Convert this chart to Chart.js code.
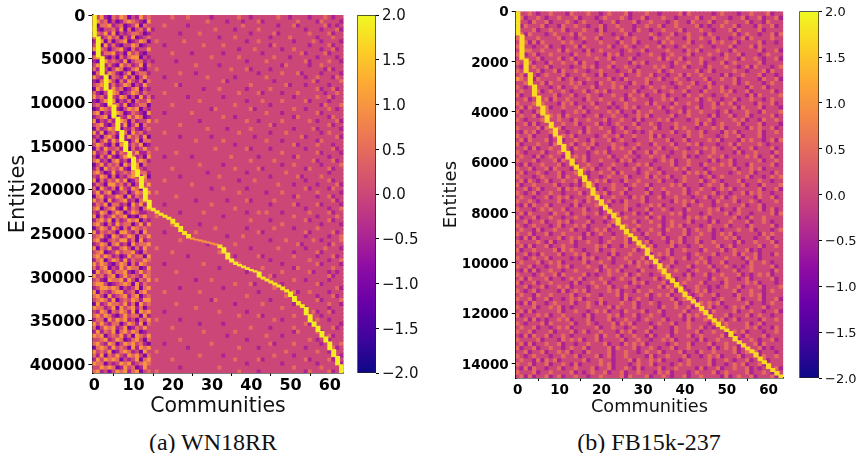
<!DOCTYPE html>
<html>
<head>
<meta charset="utf-8">
<title>Community heatmaps</title>
<script src="https://cdn.jsdelivr.net/npm/chart.js@4"></script>
<style>
  html, body { margin: 0; background: #fff; }
  body { width: 857px; height: 453px; position: relative; overflow: hidden; }
  canvas { position: absolute; top: 0; }
  .caption { position: absolute; top: 429px; width: 240px; text-align: center; font: 24px "Liberation Serif", serif; color: #111; }
</style>
</head>
<body>
<canvas id="wnHeat" width="350" height="419" style="left:0"></canvas>
<canvas id="wnBar" width="86" height="419" style="left:350px"></canvas>
<canvas id="fbHeat" width="350" height="418" style="left:440px"></canvas>
<canvas id="fbBar" width="67" height="418" style="left:790px"></canvas>
<div class="caption" style="left:93px">(a) WN18RR</div>
<div class="caption" style="left:529px">(b) FB15k-237</div>
<script>
const communities = Array.from({ length: 64 }, (_, i) => i);
const communityTicks = [0, 10, 20, 30, 40, 50, 60];
const colorTicks = [-2, -1.5, -1, -0.5, 0, 0.5, 1, 1.5, 2];

// digit in a row string -> cell value
const cellLevels = [-1.6, -1.0, -0.5, 0, 0.5, 1.0, 1.5];

const wnTotal = 41000;
const wnTicks = [0, 5000, 10000, 15000, 20000, 25000, 30000, 35000, 40000];
// first entity of the bright block in each community
const wnDiagStart = [0, 2480, 4770, 6870, 8580, 10300, 11700, 13240, 14500, 15640, 16280, 17730, 18500, 19830, 21250, 22120, 22430, 22700, 22920, 23150, 23380, 23840, 24220, 24790, 25140, 25550, 25670, 25780, 25890, 26010, 26120, 26240, 26350, 26660, 27270, 27950, 28300, 28570, 28750, 28950, 29140, 29300, 29440, 30010, 30240, 30470, 30700, 30930, 31160, 31460, 31730, 32230, 32800, 33180, 33490, 34320, 35160, 35660, 36240, 36880, 37450, 38330, 39100, 40050, 41000];
const wnDiagValue = [1.9, 1.9, 1.9, 1.9, 1.9, 1.9, 1.9, 1.9, 1.9, 1.9, 1.9, 1.9, 1.9, 1.9, 1.9, 1.8, 1.8, 1.8, 1.8, 1.8, 1.8, 1.8, 1.8, 1.8, 1.8, 1.0, 1.0, 1.0, 1.0, 1.0, 1.0, 1.0, 1.8, 1.9, 1.9, 1.9, 1.8, 1.8, 1.8, 1.8, 1.8, 1.8, 1.9, 1.8, 1.8, 1.8, 1.8, 1.8, 1.8, 1.8, 1.9, 1.9, 1.8, 1.8, 1.9, 1.9, 1.9, 1.9, 1.9, 1.9, 1.9, 1.9, 1.9, 1.9];
const wnRows = [
  "435214354132534333334333433333233333343323333334332333323334323342",
  "253413124543215333333333333334333323332333423333333343333243333231",
  "314452341235143333433333233333333333334333333332333423333334232334",
  "521334251413425233333333333333343333233333433333333333233323334243",
  "143525132344312333333323333433333333333323333342333333343333423332",
  "412353414251234333333333333333332333433333333233334333333233343323",
  "235141345123541343333334333333333333333233433333333233334323333242",
  "341524213354123333233333333343333433333333333243333333323333423333",
  "524313452142335333333333333333333333323334333333233433333323342324",
  "132445231534213333334333323333333233333333323333333334233334233313",
  "453213142455132333333333333333433333343333333343332333333233332342",
  "214534325134423233333233333333333333333233334333333333423333433233",
  "351242153423514333333333334333332333333333333333243333323343333324",
  "425313541245213343333333333333333334333423333233333333333332423343",
  "143254213513442333333343332333333333333333233333433342333323333231",
  "532414325241353333233333333334333333233333334333333333233433324333",
  "214353142532414333333333333333333423333333333323333333334233333424",
  "345124235413253333333423333333333333333343333333342333233333233343",
  "153425341245132333333333333323334333333233333433333333333423342332",
  "421335412354243333433333333333333333343333423333233343333332334323",
  "534213254131524233333333233333333233333333333333333233333433423334",
  "213545132414335333333333333433333333333233343333433333423333233342",
  "342153425123441333334333333333333333433333333233333333333324333423",
  "125434213545132333333333333333243333333342333333333433233333432333",
  "451323541243215333233333343333333333333333334333233333333423333324",
  "234514132535412333333333333333333433233333333333333243333333243343",
  "513242354142335343333333333233333333333433233333433333343233334233",
  "345213425135143333333343333333333333333333333423333333333333423342",
  "142354513242134333333333333334333323333343333333333233334233333231",
  "525134234153423333433333333333333333343333333233343333333323433333",
  "231453142534251333333323333333233333333332333333333334233333334243",
  "413525342135144333333333334333333433333333334333233333333243333323",
  "354214153243512333333333333333333333233333333333333423333433323342",
  "142533425142353343333333333333343333333423333233333333233333342333",
  "523415243135224333333433333333333333333333333333433333333423333234",
  "314252135442315333233333323333333334333333233333333243333333233343",
  "452314523143542333333333333333333333333343333343333333334233342332",
  "135243415325143333333333333433333233333333333333233433333323333423",
  "241534352145323333334333333333333333433333423333333333243333423334",
  "453125234351442333333333333332333333333233333333343333333333233342",
  "325414132453251333333323333333334333333333333233333342333343333323",
  "514243535124343333433333333333333333323334333333333333233333423333",
  "243155342413235333333333343333333333333333333334333233333233334243",
  "415324153254143333333333333333233433333233333333333333423333243332",
  "352451234135425343333333333333333333343333332333433333333433333234",
  "145233541524313333333433333333333333333333333333333243333233423342",
  "534152345231454333333333332333333323333423333343333333333333342333",
  "243514423153524333233333333333433333333333333233333423333423333233",
  "451345215243145333333333333333333333433333333333333333233333233424",
  "325413541354223333333323333343333333333233434333233333343333423332",
  "514235345121453343333333333333333233333333333333333433333233334323",
  "245351423545132333333333333333333333333343333233333333423333423343",
  "453142534413525333334333333233333333333333333333433333333323333242",
  "135425314254343333333333333333343333333233333343333233333433333324",
  "524343155324153333233333334333333333333333423333333333423333342333",
  "345215423541435333333333333333333323334333333333333333233333233434",
  "452134355241523333333343333333333333333333333233343333334323333423",
  "235414523153445333333333333332333333433333333333333342333333243333",
  "514352245314253343333333333333333333333323333334333333233334333242",
  "345123534452143333334333333333334333333333333333333233333423333334",
  "453542312534415333333333233333333333233333423333333433333233342332",
  "245135425243354333333333333333333333333333333233333333343333233424",
  "535421354142543333233333333343333333343333333333233333333423333233",
  "424513253544125333333333333333332333333333343333333243333333343342",
  "153452445213534333333433333333333333333233333333433333342333232333",
  "534245135343254333333333333333333333333333333423333333333333423343",
  "342154452531435343333333332333433333333333333333333433233333233324",
  "455312345415243333333333333333333333433342333333233333333423333342",
  "235545413235145333333323333333333233333333333343333333333333334233",
  "514324552341453333433333333433333333333333233333333423343333233343",
  "453152345245134333333333333333333333333433333333343333333233342332",
  "345425134354255333333333333333243333333333333233333333333423333424",
  "152354435241534333333433333333333333233333343333333243333333433233",
  "544235153452413333333333334333333333333333333333433333233333233343",
  "325414354251545333233333333333334333333233333333333333334233423333",
  "453542135344152333333333333333333333343333423333333433333323333324",
  "244153545231435343333323333333333333333333333343233333333433233342",
  "535324413542514333333333333233333233333333333333333333423333333233",
  "413545235124353333334333333333333333333343333233333433333233342334",
  "252435145354123333333333333343333333433333333333333243333423333323",
  "545134352415435333333333333333333323333333334333233333333333423343",
  "334523541245314333333343333333333333333233333333333333343233233332",
  "453254135453421333233333333333433333333333333423333433333323333424",
  "145425343152545333333333233333333333343333233333333333233333342333",
  "534351245423153343333333333333333333333333333333343333333433233342",
  "425143532545314333333333333433333233333333333343333233333333333234",
  "253545413235145333334333333333333333433333423333333333423333423333",
  "544132354523454333333333333333333333333233333333233333333233334243",
  "335454125341253333333323333333334333333333333333333433333343333323",
  "452313545245134343333333333333333333343333233333333333243333423342"
];

const fbTotal = 14570;
const fbTicks = [0, 2000, 4000, 6000, 8000, 10000, 12000, 14000];
const fbDiagStart = [0, 941, 1894, 2437, 2926, 3362, 3760, 4117, 4407, 4633, 4950, 5296, 5574, 5864, 6102, 6272, 6539, 6777, 7015, 7305, 7492, 7702, 7889, 8020, 8206, 8495, 8655, 8841, 8960, 9119, 9290, 9400, 9690, 9848, 10030, 10230, 10430, 10628, 10775, 10957, 11155, 11330, 11461, 11592, 11728, 11886, 12057, 12216, 12347, 12521, 12625, 12720, 12918, 13089, 13208, 13339, 13446, 13565, 13736, 13883, 14002, 14188, 14307, 14450, 14570];
const fbDiagValue = [1.8, 1.7, 1.7, 1.7, 1.7, 1.7, 1.7, 1.7, 1.7, 1.7, 1.7, 1.7, 1.7, 1.7, 1.7, 1.7, 1.7, 1.7, 1.7, 1.7, 1.7, 1.7, 1.7, 1.7, 1.7, 1.7, 1.7, 1.7, 1.7, 1.7, 1.7, 1.7, 1.7, 1.7, 1.7, 1.7, 1.7, 1.7, 1.7, 1.7, 1.7, 1.7, 1.7, 1.7, 1.7, 1.7, 1.7, 1.7, 1.7, 1.7, 1.7, 1.7, 1.7, 1.7, 1.7, 1.7, 1.7, 1.7, 1.7, 1.7, 1.7, 1.7, 1.7, 1.7];
const fbRows = [
  "4334323343332433343323433342333433233334243333323433323343334233",
  "3423343233433342333234333432334233343323333423343332334233423342",
  "4332433423334323433323342333423343332343324333423343333423324333",
  "3243334233243343323342334333233433423343333423233433423332433423",
  "4333423343342333433242333433243323343334233343323334243333423333",
  "3424333234333424333343323342333343233423343332433333423433233424",
  "4233343333423323433423334233433324334333243343342332334243333433",
  "3342424333343433233343332433423333243433342333243433423333423323",
  "4333233423323342433333423343233433423323433343323334233342433333",
  "3244334333424333242343333234334233334333243423334332433333423342",
  "4323423343333243343332434233323343323433342333433243342333234333",
  "3433342333423423333433423334233333424334233343323343324334323342",
  "4334233243343342433233343332434233333243343342333423433333423333",
  "3243433423333233434233423343323334343233423332433343323424333234",
  "4333342334243343323343332334243333423433333423423333433233342433",
  "3424323433342333433242333423343342332334243343333242334333423323",
  "5433243333423423343333423243333433423343323334233433423333243342",
  "3342334243333434233243343332433423333234334233423333423433323433",
  "4323433323423343334233343423332343343323343332433423333243342333",
  "3433242343343233423434233333423334233433423324333434233423333423",
  "4233433334233423343323343324334233342333243343323343333242433334",
  "3342323424334333243343333423433323343423333423433233423343323433",
  "4333424333243423334233423343333424333243343323342434233332433423",
  "3424333423343334233433232343423333423433233423343333424333423332",
  "4233243433323343423333434233243343332334243343332342333433243334",
  "3433423343424333233423343323343423333423343333242334233423333423",
  "4323334233433243343334233433242333434233323433423333434233243343",
  "3342423323343342333423234333423343233343333424323433342333423332",
  "4333342433423333243343323423343334233243433233343423333243433423",
  "3243423343332334243333423343232343333423343342333243423333423343",
  "4334233324343423333234334233433342423333243343332343342333423333",
  "3424333423423343324333423433233343334233423333434233324343323424",
  "4233343324333423434233343323343324333423343423332334243333432333",
  "3342423343333243342333243433423333423343323334343233423342333423",
  "4323334233434233323434233334233424333233433423343333242334333243",
  "3433242343323343423333423343323343342333423233433423333434233423",
  "4333423334243333423343332434233332343423343333242334233333423343",
  "3242334333423423343323343323343423333423343324333434233243333423",
  "4334233424333233434233423333423343233343423332343333423343423333",
  "3423343233423343323343342433323433423333243434233332343342333243",
  "4333234333424333423323433342333424334233433323423433333423323434",
  "3424323423343342333434233243343333423323433342343233342333433233",
  "4233433334233232434233343323433423333434233323433423334233243334",
  "3342342333424343333232343342333243343333423343323434233333423342",
  "4323423343323334233434233423333423324333423433342332334243433233",
  "3433233423434233343323343332434233423343332334233423433332433423",
  "4334323333423343243333423243334233333243434233324333423343233343",
  "3242433423333242333434233343323343423333423343323343334233423333",
  "4333234343342333423323433342333423343233243333434233243333423423",
  "3424333324334233433423334233423243333434233323433342343323333424",
  "4233423343323343323334243343333423423333243434233333423243343333",
  "3342334233434233342332343333423343323433342333242334333423343233",
  "4323433323423343423333423243343333423434233323433342333243333423",
  "3433242334333423323434233333423343324333423433423233343342333234",
  "4334233423343333242343323343332433423333423343323434233333243433",
  "3242423333423434233323343342433233342334233433323343423332334233",
  "4333343242333423343323433342333423332434233423343333242334333423",
  "3424233423343323333434233243343342333423323343334234233333423343",
  "4233433334243433233423343333423243334233433324333423433423233333",
  "3342324333423343423333242334333423434233323433342333424334233243",
  "4323433423333232434233423343334233323433423343233343332434233333",
  "3433342343423333423343323334243433233423333434233423333243343233",
  "4334233233434233343324333423343323434233342333423343232343333423",
  "3242423343323343333423434233324333423343323433342333423343333243",
  "4333234334243333423233433342343323343333242334233433342323434233",
  "3424333423323434233343323433423334233423343333243343323423333423",
  "4233423343333242334334233332434233342323433342333243333434233323",
  "3342334233434233323433423343323333424334233433232343342333423334",
  "4323423333242343423333434233243343333423323434233333423343323433",
  "3433243343333423343323334243333423434233232343342333243343423333",
  "4334233423323434233343333242343323333423434233323433342333423342",
  "3242433234333423343242333433423343233342333243434233333423323433",
  "4333423343423233343333424333423333243343342333423323434233342333",
  "3424233333423343323434233243334233423333423343243333423343323342",
  "4233343423343333242333434233423343323334243433233342333423433233",
  "3342423233434233342333423343323433342333242334333423423333243343",
  "4323334243333423343233342434233323433423343333242343333423423333",
  "3433423323434233333423343323433342333243343342323343333434233243",
  "4334233342333423423343332434233423333243333423343323434233323343",
  "3242433423343233333424334233433242334233342343333423232433342333",
  "4333342333243434233423333423343323343423333242334333423343233423",
  "3424233433423323343334233243434233332343342333423343323334243333",
  "4233423343323433423333424333423343233423343333242343423333423233",
  "3342334233434233243333423343323433423334233243343333423434233323",
  "4323433323343342333423423343333242334333423323434233342333243343",
  "3433242434233333423343323334243343423332343333423343233423342333",
  "4334233423343242333343423332343342333234343333423323434233423333",
  "3242433233423343334233423343242333423343333242334233433423233342",
  "4333423343333423234334233423343332434233323433342343333423343233",
  "3424233423423343323343333424333423343233423343333242343342333423"
];

const PLASMA = ["#0d0887", "#41049d", "#6a00a8", "#8f0da4", "#b12a90", "#cc4778", "#e16462", "#f2844b", "#fca636", "#fcce25", "#f0f921"];

function hexRgb(h) {
  return [1, 3, 5].map(i => parseInt(h.slice(i, i + 2), 16));
}

function plasma(v) {
  const t = Math.min(1, Math.max(0, (v + 2) / 4)) * (PLASMA.length - 1);
  const i = Math.min(PLASMA.length - 2, Math.floor(t));
  const a = hexRgb(PLASMA[i]), b = hexRgb(PLASMA[i + 1]);
  const c = a.map((x, k) => Math.round(x + (b[k] - x) * (t - i)));
  return `rgb(${c[0]},${c[1]},${c[2]})`;
}

function rowDatasets(rows, total) {
  const h = total / rows.length;
  return rows.map((row, r) => ({
    data: communities.map(c => ({ x: c, y: [r * h, (r + 1) * h] })),
    backgroundColor: communities.map(c => plasma(cellLevels[+(row[c] ?? 3)]))
  }));
}

function diagDataset(starts, values) {
  return {
    data: communities.map(c => ({ x: c, y: [starts[c], starts[c + 1]] })),
    backgroundColor: values.map(plasma)
  };
}

const fixedTicks = list => scale => { scale.ticks = list.map(value => ({ value })); };

// DejaVu digits sit a little high on a "middle" baseline
const nudgeYLabels = {
  id: "nudgeYLabels",
  afterLayout(chart) {
    chart.scales.y.getLabelItems().forEach(item => {
      item.options.translation = [item.options.translation[0], item.options.translation[1] + 1.5];
    });
  }
};

function heatChart(id, o) {
  return new Chart(document.getElementById(id), {
    type: "bar",
    data: { datasets: [diagDataset(o.starts, o.values), ...rowDatasets(o.rows, o.total)] },
    plugins: [nudgeYLabels],
    options: {
      responsive: false,
      animation: false,
      events: [],
      layout: { padding: { top: o.top, right: o.right } },
      plugins: { legend: { display: false }, tooltip: { enabled: false } },
      datasets: { bar: { grouped: false, barPercentage: 1, categoryPercentage: 1, borderWidth: 0, inflateAmount: 0.5 } },
      scales: {
        x: {
          type: "linear", min: -0.5, max: 63.5, offset: false,
          afterBuildTicks: fixedTicks(communityTicks),
          afterFit: s => { s.height = o.xHeight; },
          grid: { drawOnChartArea: false, color: "#000", tickLength: 3 },
          border: { color: "#000", width: 1.5 },
          ticks: { color: "#000", font: { family: "DejaVu Sans", weight: "bold", size: o.tickSize }, padding: o.xTickPad, maxRotation: 0, callback: v => String(v) },
          title: { display: true, text: "Communities", color: "#111", font: { family: "DejaVu Sans", size: o.xTitleSize }, padding: 0 }
        },
        y: {
          type: "linear", reverse: true, min: 0, max: o.total,
          afterBuildTicks: fixedTicks(o.ticks),
          afterFit: s => { s.width = o.yWidth; },
          grid: { drawOnChartArea: false, color: "#000", tickLength: 4 },
          border: { color: "#000", width: 1.5 },
          ticks: { color: "#000", font: { family: "DejaVu Sans", weight: "bold", size: o.tickSize }, padding: 3, callback: v => String(v) },
          title: { display: true, text: "Entities", color: "#111", font: { family: "DejaVu Sans", size: o.yTitleSize }, padding: { top: o.yTitlePad, bottom: 0 } }
        }
      }
    }
  });
}

function colorBar(id, o) {
  return new Chart(document.getElementById(id), {
    type: "bar",
    data: {
      labels: ["scale"],
      datasets: [{
        data: [[-2, 2]],
        borderWidth: 1,
        borderColor: "#222",
        borderSkipped: false,
        backgroundColor: ctx => {
          const area = ctx.chart.chartArea;
          if (!area) return PLASMA[5];
          const g = ctx.chart.ctx.createLinearGradient(0, area.bottom, 0, area.top);
          PLASMA.forEach((c, i) => g.addColorStop(i / (PLASMA.length - 1), c));
          return g;
        }
      }]
    },
    plugins: [nudgeYLabels],
    options: {
      responsive: false,
      animation: false,
      events: [],
      layout: { padding: { top: o.top, left: o.left, bottom: o.bottom } },
      plugins: { legend: { display: false }, tooltip: { enabled: false } },
      datasets: { bar: { barPercentage: 1, categoryPercentage: 1 } },
      scales: {
        x: { display: false },
        y: {
          position: "right", min: -2, max: 2,
          afterBuildTicks: fixedTicks(colorTicks),
          afterFit: s => { s.width = o.axisWidth; },
          grid: { drawOnChartArea: false, color: "#000", tickLength: 3 },
          border: { display: false },
          ticks: { color: "#111", font: { family: "DejaVu Sans", size: o.tickSize }, padding: 3, callback: v => Number(v).toFixed(1).replace("-", "\u2212") }
        }
      }
    }
  });
}

heatChart("wnHeat", { rows: wnRows, total: wnTotal, ticks: wnTicks, starts: wnDiagStart, values: wnDiagValue, top: 15, right: 6.5, xHeight: 46, yWidth: 92.4, tickSize: 16, xTickPad: 0, xTitleSize: 20.5, yTitleSize: 21, yTitlePad: 6 });
colorBar("wnBar", { top: 15, left: 7.3, bottom: 46, axisWidth: 60, tickSize: 15 });
heatChart("fbHeat", { rows: fbRows, total: fbTotal, ticks: fbTicks, starts: fbDiagStart, values: fbDiagValue, top: 11.3, right: 6.8, xHeight: 40, yWidth: 75.7, tickSize: 13.5, xTickPad: 1, xTitleSize: 17.7, yTitleSize: 18, yTitlePad: 1 });
colorBar("fbBar", { top: 11.3, left: 9.3, bottom: 40, axisWidth: 38, tickSize: 13 });
</script>
</body>
</html>
